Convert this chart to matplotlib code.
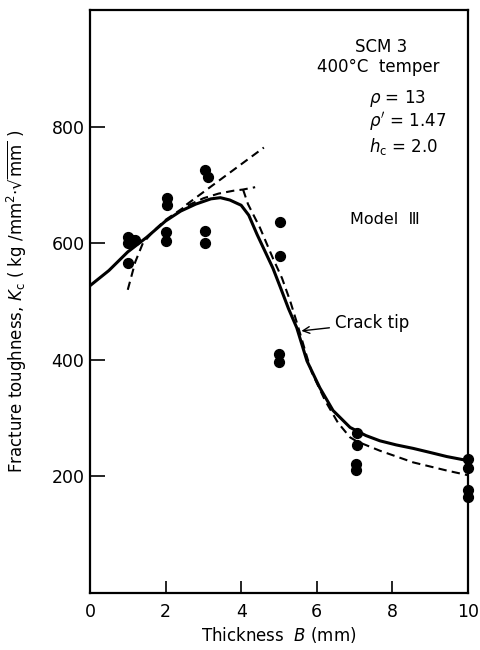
import matplotlib
matplotlib.use("Agg")
import matplotlib.pyplot as plt
import numpy as np

# measured points, thickness B (mm) and Kc
pt_b = [1.0, 1.0, 1.0, 1.1, 1.2,
        2.05, 2.05, 2.0, 2.0,
        3.05, 3.12, 3.05, 3.05,
        5.03, 5.03, 5.0, 5.0,
        7.06, 7.06, 7.03, 7.03,
        10.0, 10.0, 10.0, 10.0]
pt_kc = [610, 600, 566, 605, 605,
         677, 665, 619, 603,
         726, 714, 621, 600,
         637, 578, 410, 397,
         275, 253, 222, 211,
         230, 214, 177, 165]

# crack tip model (solid)
tip_b = [0, 0.5, 1.0, 1.5, 2.0, 2.4, 2.8, 3.2, 3.45, 3.7, 4.0, 4.2, 4.42, 4.63,
         4.84, 5.05, 5.25, 5.47, 5.74, 6.08, 6.43, 6.88, 7.3, 7.67, 8.1, 8.55,
         9.0, 9.44, 10.0]
tip_kc = [527, 553, 585, 610, 638, 655, 667, 676, 678, 674, 665, 648, 615, 586,
          557, 522, 488, 455, 398, 352, 313, 284, 270, 261, 254, 248,
          241, 234, 227]

# dashed curves
dl_b = [1.0, 1.2, 1.4, 1.7, 2.0, 2.5, 3.0, 3.4, 3.8, 4.05, 4.37]
dl_kc = [520, 568, 600, 622, 640, 662, 677, 685, 690, 692, 696]
dr_b = [4.05, 4.18, 4.5, 4.84, 5.08, 5.3, 5.5, 5.74, 5.87, 6.22, 6.56, 6.88,
        7.06, 7.67, 8.55, 9.44, 10.0]
dr_kc = [692, 667, 626, 574, 540, 500, 458, 405, 378, 330, 292, 267,
         260, 244, 224, 210, 202]
ds_b = [2.55, 4.6]
ds_kc = [666, 764]

plt.rcParams['font.family'] = ['DejaVu Sans']
plt.rcParams['mathtext.fontset'] = 'dejavusans'

fig = plt.figure(figsize=(4.81, 6.5), dpi=100)
ax = fig.add_axes([0.187, 0.0877, 0.786, 0.897])

ax.plot(tip_b, tip_kc, color='black', lw=2.2)
ax.plot(dl_b, dl_kc, color='black', lw=1.5, linestyle=(0, (4, 2.5)))
ax.plot(dr_b, dr_kc, color='black', lw=1.5, linestyle=(0, (4, 2.5)))
ax.plot(ds_b, ds_kc, color='black', lw=1.5, linestyle=(0, (4, 2.5)))
ax.scatter(pt_b, pt_kc, s=50, color='black', zorder=3, clip_on=False)

ax.set_xlim(0, 10)
ax.set_ylim(0, 1000)
ax.set_xticks([0, 2, 4, 6, 8, 10])
ax.set_yticks([200, 400, 600, 800])
ax.tick_params(axis='x', direction='in', length=8.5, width=1.2, labelsize=12.5, pad=7)
ax.tick_params(axis='y', direction='in', length=11, width=1.2, labelsize=12.5, pad=4)
for s in ax.spines.values():
    s.set_linewidth(1.6)

ax.set_xlabel(r'Thickness  $B$ (mm)', fontsize=12)
ax.set_ylabel(r'Fracture toughness, $K_{\rm c}$ ( kg /mm$^2$$\cdot\sqrt{\rm mm}$ )', fontsize=12)
ax.yaxis.set_label_coords(-0.16, 0.5)
ax.xaxis.set_label_coords(0.5, -0.055)

ax.text(7.7, 937, 'SCM 3', ha='center', va='center', fontsize=12)
ax.text(7.62, 902, '400°C  temper', ha='center', va='center', fontsize=12)
ax.text(7.38, 848, r'$\rho$ = 13', ha='left', va='center', fontsize=12)
ax.text(7.38, 808, r"$\rho'$ = 1.47", ha='left', va='center', fontsize=12)
ax.text(7.38, 766, r'$h_{\rm c}$ = 2.0', ha='left', va='center', fontsize=12)
ax.text(7.8, 641, 'Model  Ⅲ', ha='center', va='center', fontsize=11.5)

ax.annotate('Crack tip', xy=(5.52, 449), xytext=(6.48, 463),
            ha='left', va='center', fontsize=12,
            arrowprops=dict(arrowstyle='->', color='black', lw=1))

fig.savefig('out.png', dpi=100)
